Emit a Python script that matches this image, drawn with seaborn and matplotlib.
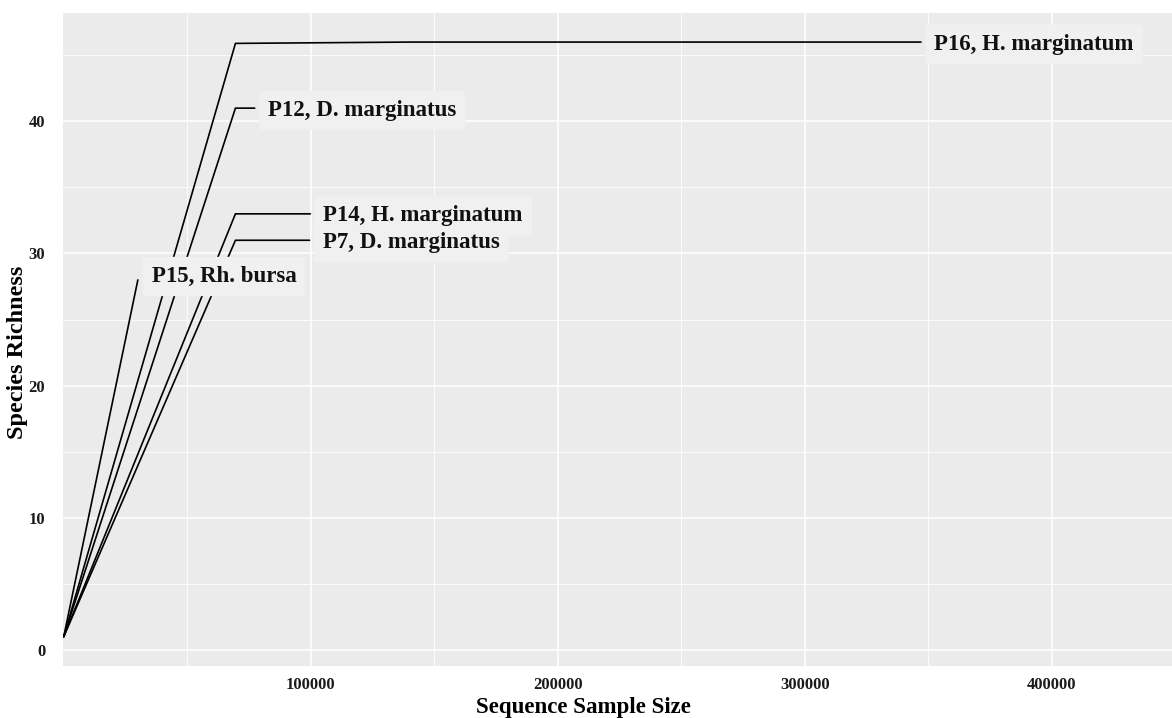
import numpy as np
import pandas as pd
import matplotlib
matplotlib.use("Agg")
import matplotlib.pyplot as plt
import seaborn as sns

# Rarefaction curves: sequencing depth vs. observed species richness
p16_depth = [1, 69500, 140000, 347000]
p16_richness = [1, 45.9, 46, 46]

p12_depth = [1, 69500, 77300]
p12_richness = [1, 41, 41]

p14_depth = [1, 69500, 99800]
p14_richness = [1, 33, 33]

p7_depth = [1, 69500, 99500]
p7_richness = [1, 31, 31]

p15_depth = [1, 30000]
p15_richness = [1, 28]

sample_ids = ["P16", "P12", "P14", "P7", "P15"]
sample_labels = ["P16, H. marginatum", "P12, D. marginatus", "P14, H. marginatum",
                 "P7, D. marginatus", "P15, Rh. bursa"]

x_ticks = [100000, 200000, 300000, 400000]
x_tick_labels = ["100000", "200000", "300000", "400000"]
y_ticks = [0, 10, 20, 30, 40]

depths = [p16_depth, p12_depth, p14_depth, p7_depth, p15_depth]
richness = [p16_richness, p12_richness, p14_richness, p7_richness, p15_richness]

df = pd.concat(
    [pd.DataFrame({"sample": s, "label": lab, "depth": d, "richness": r})
     for s, lab, d, r in zip(sample_ids, sample_labels, depths, richness)],
    ignore_index=True,
)

sns.set_theme(style="darkgrid")
plt.rcParams["font.family"] = ["Liberation Serif", "DejaVu Serif"]
plt.rcParams["font.weight"] = "bold"

fig = plt.figure(figsize=(11.72, 7.18), dpi=100)
ax = fig.add_axes([63 / 1172, 52 / 718, 1109 / 1172, 653 / 718])
ax.set_facecolor("#EBEBEB")

sns.lineplot(data=df, x="depth", y="richness", units="sample", estimator=None,
             color="black", linewidth=1.2, sort=False, ax=ax, legend=False)

# text label at the end of each curve (offsets in points);
# label backgrounds are drawn first so no box hides another label's text
label_offset = {"P15": (10.0, -1.5)}
for s, lab in zip(sample_ids, sample_labels):
    sub = df[df["sample"] == s]
    x_end = sub["depth"].iloc[-1]
    y_end = sub["richness"].iloc[-1]
    dx, dy = label_offset.get(s, (9.5, -5.5))
    common = dict(xy=(x_end, y_end), xytext=(dx, dy), textcoords="offset points",
                  ha="left", va="baseline", fontsize=16.5, fontweight="bold")
    ax.annotate(lab, color=(0, 0, 0, 0), zorder=4,
                bbox=dict(boxstyle="round,pad=0.4,rounding_size=0.2",
                          fc="#F0F0F0", ec="none"), **common)
    ax.annotate(lab, color="#111111", zorder=6, **common)

ax.set_xlim(-300, 448600)
ax.set_ylim(-1.22, 48.2)
ax.set_xticks(x_ticks)
ax.set_xticklabels(x_tick_labels)
ax.set_yticks(y_ticks)
ax.set_xticks([50000, 150000, 250000, 350000], minor=True)
ax.set_yticks([5, 15, 25, 35, 45], minor=True)

ax.grid(which="major", color="white", linewidth=1.1)
ax.grid(which="minor", color="white", linewidth=0.6)
ax.set_axisbelow(True)
for sp in ax.spines.values():
    sp.set_visible(False)

ax.tick_params(axis="both", which="major", length=2.2, width=0.8, color="#333333",
               labelsize=12, labelcolor="#1A1A1A")
ax.tick_params(axis="y", which="major", pad=10.5)
ax.tick_params(axis="x", which="major", pad=6.0)
ax.tick_params(which="minor", length=0)
for t in ax.get_xticklabels() + ax.get_yticklabels():
    t.set_fontweight("bold")

ax.set_xlabel("Sequence Sample Size", fontsize=16.5, fontweight="bold", color="black")
ax.set_ylabel("Species Richness", fontsize=17.5, fontweight="bold", color="black")
ax.xaxis.set_label_coords((583 - 63) / 1109, -(708 - 666) / 653)
ax.yaxis.set_label_coords((18 - 63) / 1109, (666 - 352.5) / 653)
ax.xaxis.label.set_va("center")
ax.yaxis.label.set_va("center")

fig.savefig("out.png", dpi=100)
